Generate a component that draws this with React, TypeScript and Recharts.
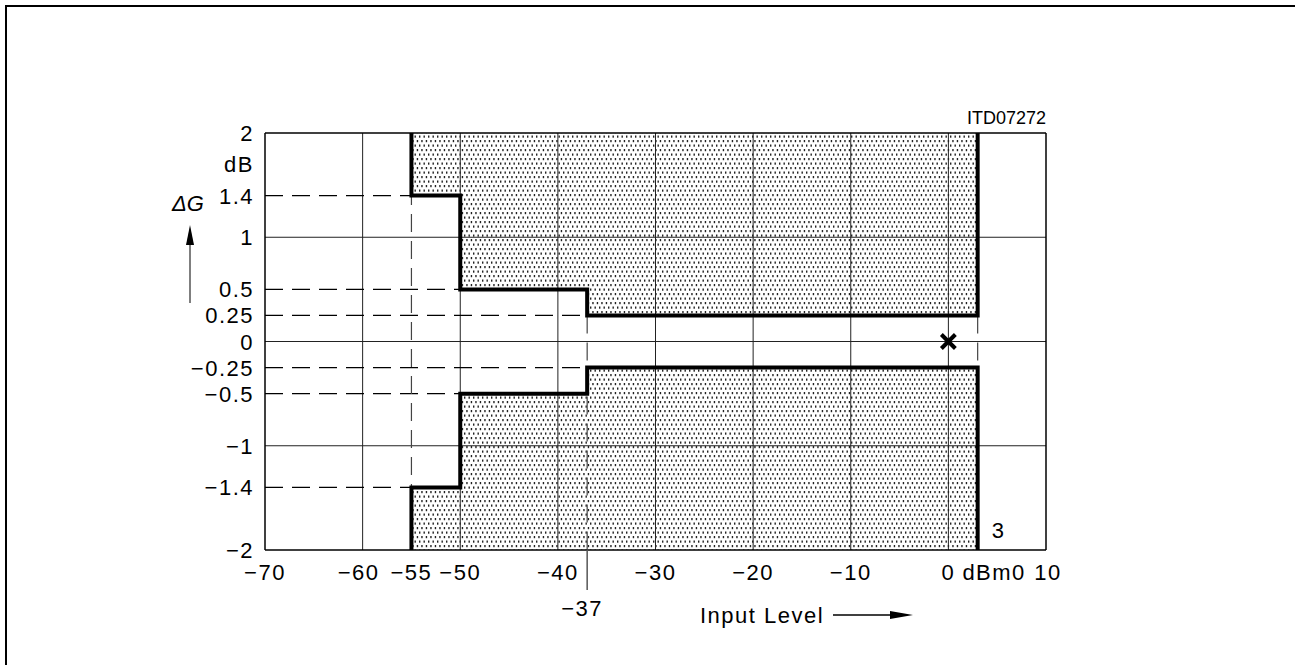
import React from 'react';
import {
  ComposedChart,
  Line,
  Scatter,
  XAxis,
  YAxis,
  ReferenceLine,
  ReferenceArea,
  ReferenceDot,
  Label,
} from 'recharts';

const FONT = '"Liberation Sans", Arial, sans-serif';

// axes
const xTicks = [-70, -60, -55, -50, -40, -37, -30, -20, -10, 0, 10];
const yTicks = [2, 1.4, 1, 0.5, 0.25, 0, -0.25, -0.5, -1, -1.4, -2];
const gridX = [-60, -50, -40, -30, -20, -10, 0];
const gridY = [1, 0, -1];
const frameX = [-70, 10];
const frameY = [2, -2];

// tolerance mask corners (upper and lower limit)
const maskX = [-55, -55, -50, -50, -37, -37, 3, 3];
const upperY = [2, 1.4, 1.4, 0.5, 0.5, 0.25, 0.25, 2];
const lowerY = [-2, -1.4, -1.4, -0.5, -0.5, -0.25, -0.25, -2];

// shaded bands outside the mask
const bandFrom = [-55, -50, -37];
const bandTo = [-50, -37, 3];
const bandLimit = [1.4, 0.5, 0.25];

// dashed guide levels and where they stop
const guideLevel = [1.4, 0.5, 0.25, -0.25, -0.5, -1.4];
const guideEnd = [-55, -50, -37, -37, -50, -55];

// dashed verticals: x, from y, to y
const vGuideX = [-55, -37, 3];
const vGuideTop = [2, 0.25, 0.25];
const vGuideBottom = [-2, -2, -0.25];

// reference point
const markerX = [0];
const markerY = [0];

const upperData = maskX.map((x, i) => ({ x, y: upperY[i] }));
const lowerData = maskX.map((x, i) => ({ x, y: lowerY[i] }));
const markerData = markerX.map((x, i) => ({ x, y: markerY[i] }));

const fmt = (v: number) => (v < 0 ? `\u2212${Math.abs(v)}` : `${v}`);

const textStyle = { fontFamily: FONT, fontSize: 22, fill: '#000', letterSpacing: 1.5 };

function XTick(props: any) {
  const { x, y, payload } = props;
  const v = payload.value;
  if (v === -37) {
    return (
      <g>
        <line x1={x} x2={x} y1={y} y2={y + 40} stroke="#555" strokeWidth={1.5} />
        <text x={x - 5} y={y + 66} textAnchor="middle" style={textStyle}>
          {fmt(v)}
        </text>
      </g>
    );
  }
  if (v === 0) {
    return (
      <g>
        <text x={x} y={y + 30} textAnchor="middle" style={textStyle}>
          0
        </text>
        <text x={x + 14} y={y + 30} textAnchor="start" style={textStyle}>
          dBm0
        </text>
      </g>
    );
  }
  return (
    <text x={v === -60 ? x - 4 : v === 10 ? x + 2 : x} y={y + 30} textAnchor="middle" style={textStyle}>
      {fmt(v)}
    </text>
  );
}

function YTick(props: any) {
  const { x, y, payload } = props;
  return (
    <text x={x - 11} y={y + 8} textAnchor="end" style={textStyle}>
      {fmt(payload.value)}
    </text>
  );
}

function Cross(props: any) {
  const { cx, cy } = props;
  const s = 7;
  return (
    <path
      d={`M${cx - s},${cy - s}L${cx + s},${cy + s}M${cx - s},${cy + s}L${cx + s},${cy - s}`}
      stroke="#000"
      strokeWidth={4}
      fill="none"
    />
  );
}

function YTitle(props: any) {
  const { viewBox } = props;
  const ax = viewBox.x + viewBox.width - 75;
  return (
    <g>
      <text
        x={ax - 18}
        y={viewBox.y + 78}
        style={{ fontFamily: FONT, fontSize: 22, fontStyle: 'italic', fill: '#000' }}
      >
        ΔG
      </text>
      <line x1={ax} x2={ax} y1={viewBox.y + 170} y2={viewBox.y + 108} stroke="#555" strokeWidth={1.5} />
      <polygon points={`${ax},${viewBox.y + 92} ${ax - 4},${viewBox.y + 112} ${ax + 4},${viewBox.y + 112}`} fill="#000" />
    </g>
  );
}

function XTitle(props: any) {
  const { viewBox } = props;
  const tx = viewBox.x + 435;
  const ty = viewBox.y + 73;
  return (
    <g>
      <text x={tx} y={ty} style={textStyle}>
        Input Level
      </text>
      <line x1={tx + 133} x2={tx + 195} y1={ty - 8} y2={ty - 8} stroke="#000" strokeWidth={1.5} />
      <polygon points={`${tx + 213},${ty - 8} ${tx + 190},${ty - 12} ${tx + 190},${ty - 4}`} fill="#000" />
    </g>
  );
}

export default function App() {
  return (
    <div style={{ position: 'fixed', left: 0, top: 0, width: 1295, height: 665, background: '#fff' }}>
      <div
        style={{
          position: 'absolute',
          left: 5,
          top: 5,
          right: -10,
          bottom: -10,
          borderLeft: '2px solid #000',
          borderTop: '2px solid #000',
        }}
      />
      <div style={{ position: 'absolute', left: 0, top: 0 }}>
        <ComposedChart width={1295} height={665} margin={{ top: 133, right: 249, left: 0, bottom: 0 }}>
          <defs>
            <pattern id="dots" patternUnits="userSpaceOnUse" width={9} height={9}>
              <rect x={0.5} y={0.5} width={1.4} height={2.2} fill="#222" />
              <rect x={5} y={0.5} width={1.4} height={2.2} fill="#222" />
              <rect x={2.75} y={5} width={1.4} height={2.2} fill="#222" />
              <rect x={7.25} y={5} width={1.4} height={2.2} fill="#222" />
            </pattern>
          </defs>
          <XAxis
            dataKey="x"
            type="number"
            domain={[-70, 10]}
            ticks={xTicks}
            interval={0}
            allowDataOverflow
            axisLine={false}
            tickLine={false}
            tickSize={0}
            tickMargin={0}
            height={115}
            tick={<XTick />}
          >
            <Label content={<XTitle />} />
          </XAxis>
          <YAxis
            type="number"
            domain={[-2, 2]}
            ticks={yTicks}
            interval={0}
            allowDataOverflow
            axisLine={false}
            tickLine={false}
            tickSize={0}
            tickMargin={0}
            width={265}
            tick={<YTick />}
          >
            <Label content={<YTitle />} />
          </YAxis>

          {bandFrom.map((x1, i) => (
            <ReferenceArea key={`u${i}`} x1={x1} x2={bandTo[i]} y1={bandLimit[i]} y2={2} fill="url(#dots)" fillOpacity={1} stroke="none" />
          ))}
          {bandFrom.map((x1, i) => (
            <ReferenceArea key={`l${i}`} x1={x1} x2={bandTo[i]} y1={-2} y2={-bandLimit[i]} fill="url(#dots)" fillOpacity={1} stroke="none" />
          ))}

          {gridX.map((v) => (
            <ReferenceLine key={`gx${v}`} x={v} stroke="#222" strokeWidth={1} />
          ))}
          {gridY.map((v) => (
            <ReferenceLine key={`gy${v}`} y={v} stroke="#222" strokeWidth={1} />
          ))}
          {frameX.map((v) => (
            <ReferenceLine key={`fx${v}`} x={v} stroke="#000" strokeWidth={1.5} />
          ))}
          {frameY.map((v) => (
            <ReferenceLine key={`fy${v}`} y={v} stroke="#000" strokeWidth={1.5} />
          ))}

          {guideLevel.map((v, i) => (
            <ReferenceLine
              key={`dh${i}`}
              segment={[{ x: -70, y: v }, { x: guideEnd[i], y: v }]}
              stroke="#000"
              strokeWidth={1.2}
              strokeDasharray="18 9"
            />
          ))}
          {vGuideX.map((v, i) => (
            <ReferenceLine
              key={`dv${i}`}
              segment={[{ x: v, y: vGuideTop[i] }, { x: v, y: vGuideBottom[i] }]}
              stroke="#444"
              strokeWidth={1.2}
              strokeDasharray="18 9"
            />
          ))}

          <Line data={upperData} dataKey="y" type="linear" stroke="#000" strokeWidth={4} dot={false} isAnimationActive={false} strokeLinejoin="miter" />
          <Line data={lowerData} dataKey="y" type="linear" stroke="#000" strokeWidth={4} dot={false} isAnimationActive={false} strokeLinejoin="miter" />
          <Scatter data={markerData} dataKey="y" shape={<Cross />} isAnimationActive={false} />

          <ReferenceDot
            x={10}
            y={2}
            r={0}
            label={{
              content: (p: any) => (
                <text x={p.viewBox.x} y={p.viewBox.y - 9} textAnchor="end" style={{ fontFamily: FONT, fontSize: 18, fill: '#000' }}>
                  ITD07272
                </text>
              ),
            }}
          />
          <ReferenceDot
            x={-70}
            y={1.7}
            r={0}
            label={{
              content: (p: any) => (
                <text x={p.viewBox.x - 11} y={p.viewBox.y + 8} textAnchor="end" style={textStyle}>
                  dB
                </text>
              ),
            }}
          />
          <ReferenceDot
            x={3}
            y={-2}
            r={0}
            label={{
              content: (p: any) => (
                <text x={p.viewBox.x + 14} y={p.viewBox.y - 12} textAnchor="start" style={textStyle}>
                  3
                </text>
              ),
            }}
          />
        </ComposedChart>
      </div>
    </div>
  );
}
